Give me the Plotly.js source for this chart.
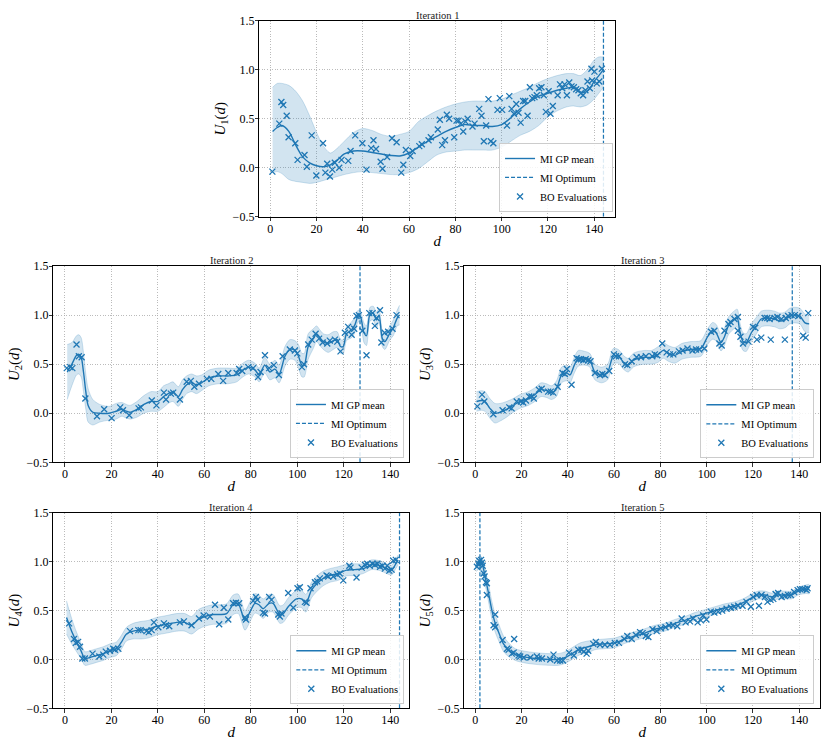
<!DOCTYPE html>
<html><head><meta charset="utf-8">
<script src="https://cdn.plot.ly/plotly-3.0.1.min.js"></script>
<style>html,body{margin:0;padding:0;background:#fff}#chart{width:830px;height:747px}</style>
</head><body><div id="chart"></div>
<script>
// ---------- Iteration 1 ----------
const grid1 = [1,3,5,8,11,14,17,20,23,26,29,32,36,40,44,48,52,56,60,64,68,72,76,80,84,88,92,96,100,104,108,112,116,120,124,128,131,134,137,140,142,144];
const mean1 = [0.37,0.41,0.43,0.37,0.23,0.11,0.05,0.02,0.01,0.03,0.08,0.14,0.17,0.17,0.155,0.14,0.125,0.12,0.15,0.21,0.27,0.32,0.37,0.41,0.44,0.43,0.43,0.42,0.44,0.51,0.60,0.67,0.73,0.76,0.79,0.81,0.82,0.77,0.78,0.88,0.94,1.0];
const upper1 = [0.82,0.86,0.86,0.84,0.78,0.68,0.53,0.36,0.22,0.15,0.20,0.27,0.36,0.40,0.38,0.34,0.32,0.34,0.37,0.47,0.53,0.58,0.62,0.65,0.67,0.68,0.68,0.68,0.70,0.74,0.78,0.82,0.87,0.91,0.94,0.96,0.96,0.94,1.0,1.1,1.13,1.13];
const lower1 = [-0.05,-0.04,-0.06,-0.12,-0.14,-0.15,-0.16,-0.15,-0.13,-0.11,-0.09,-0.07,-0.05,-0.04,-0.05,-0.06,-0.07,-0.07,-0.05,-0.01,0.06,0.13,0.16,0.17,0.18,0.18,0.18,0.18,0.21,0.27,0.33,0.37,0.43,0.52,0.58,0.62,0.63,0.62,0.64,0.70,0.76,0.82];
const evalX1 = [0.9,3.9,4.8,5.6,7.1,7.9,10.8,11.8,14.8,15.8,
  17.9,19.9,22.8,23.8,24.6,25.8,26.8,27.9,29.8,30.8,
  33.7,34.7,36.7,39.8,41.6,43.6,44.6,45.7,47.7,48.5,
  50.5,52.6,54.6,56.6,57.5,58.6,60.5,61.5,64.4,65.5,
  68.4,69.4,72.4,73.3,74.3,75.5,76.3,77.3,79.5,80.5,
  81.4,82.4,83.4,84.4,85.3,87.4,88.3,90.3,91.3,92.3,
  93.3,94.3,95.3,96.4,98.2,99.2,100.2,102.3,103.3,104.3,
  105.3,106.3,107.3,108.2,109.3,110.2,111.2,112.2,113.2,114.2,
  115.2,116.2,117.2,118.2,119.1,120.3,121.1,122.1,124.2,125.2,
  126.2,127.2,128.2,129.2,130.2,131.2,132.2,133.2,134.2,135.2,
  136.2,137.1,138.1,138.8,139.1,140.1,141.1,142.2,143.3];
const evalY1 = [-0.04,0.45,0.67,0.64,0.53,0.31,0.25,0.08,0.13,0.01,
  0.33,-0.08,0.25,-0.05,0.04,-0.09,-0.02,0.05,0.0,0.08,
  0.07,0.17,0.33,0.25,-0.02,0.20,0.28,0.19,0.06,-0.01,
  0.11,0.30,0.26,-0.05,0.03,0.18,0.12,0.17,0.22,0.24,
  0.28,0.31,0.39,0.49,0.23,0.28,0.54,0.50,0.31,0.48,
  0.48,0.45,0.37,0.47,0.50,0.42,0.45,0.60,0.53,0.27,
  0.43,0.70,0.27,0.25,0.59,0.71,0.59,0.43,0.73,0.60,
  0.55,0.65,0.56,0.46,0.68,0.68,0.53,0.82,0.71,0.72,
  0.74,0.81,0.82,0.74,0.57,0.78,0.55,0.63,0.74,0.85,
  0.81,0.85,0.74,0.87,0.83,0.82,0.80,0.79,0.76,0.74,
  0.79,0.88,0.81,1.01,0.89,0.98,0.86,0.88,1.01];
const opt1 = 144;

// ---------- Iteration 2 ----------
const grid2 = [1,3,5,6,7,8,9,10,12,15,19,22,24.5,26,28,31,34,37,40,42.5,44.5,46.5,48.8,50.6,52.4,54.5,56.7,58.8,62,66,70,74,76,79,81.8,83.6,86,88.2,90.4,92.2,94.7,96.8,99,100.5,102,103,104.7,106.9,108.3,109.7,111.2,113.3,115.5,117.2,118.6,119.8,121.2,123.4,124.8,126.2,127.2,128.7,129.8,131.3,132.7,134.1,135.2,136.6,137.7,139.9,141.3,143,144];
const mean2 = [0.42,0.50,0.59,0.60,0.57,0.42,0.22,0.08,0.01,0.0,0.0,0.02,0.04,0.025,0.01,0.04,0.09,0.12,0.12,0.17,0.2,0.22,0.17,0.24,0.29,0.31,0.29,0.31,0.36,0.38,0.38,0.39,0.43,0.47,0.44,0.39,0.49,0.42,0.45,0.40,0.58,0.65,0.64,0.58,0.49,0.49,0.68,0.76,0.81,0.77,0.73,0.71,0.74,0.75,0.68,0.68,0.81,0.85,0.90,0.99,0.98,0.82,0.79,1.01,1.02,0.95,1.0,0.76,0.73,0.82,0.87,0.97,1.0];
const spread2 = [0.28,0.22,0.2,0.2,0.2,0.2,0.18,0.17,0.13,0.09,0.07,0.08,0.07,0.07,0.07,0.08,0.09,0.1,0.1,0.11,0.1,0.1,0.1,0.1,0.09,0.09,0.09,0.08,0.08,0.08,0.08,0.07,0.07,0.07,0.07,0.07,0.08,0.08,0.09,0.09,0.1,0.1,0.1,0.12,0.12,0.12,0.13,0.1,0.08,0.08,0.08,0.09,0.09,0.08,0.07,0.07,0.07,0.08,0.08,0.06,0.06,0.1,0.1,0.07,0.07,0.08,0.07,0.08,0.08,0.07,0.08,0.08,0.1];
const evalX2 = [0.8,2.3,3.2,5.0,6.0,7.2,8.8,13.8,16.9,20.1,
  23.8,25.0,27.7,31.7,32.7,37.4,39.4,42.6,43.5,45.6,
  46.6,49.5,52.4,54.2,55.7,57.7,61.1,63.0,66.0,68.1,
  70.3,73.9,75.0,76.3,78.9,81.0,83.1,84.2,86.1,87.9,
  89.9,92.1,93.7,96.8,99.0,100.0,102.0,102.9,104.7,106.2,
  107.9,109.4,110.9,112.9,114.0,116.2,117.2,118.6,120.5,121.9,
  123.4,124.5,125.5,126.5,128.0,129.8,131.0,132.4,133.4,134.1,
  135.6,136.2,137.6,139.1,141.0,142.7];
const evalY2 = [0.46,0.47,0.46,0.70,0.58,0.57,0.15,-0.03,0.04,-0.05,
  0.06,0.03,-0.02,0.05,0.06,0.13,0.08,0.21,0.14,0.20,
  0.21,0.14,0.32,0.33,0.27,0.30,0.35,0.35,0.40,0.33,
  0.41,0.41,0.45,0.43,0.47,0.46,0.37,0.42,0.59,0.46,
  0.49,0.39,0.58,0.65,0.64,0.61,0.47,0.50,0.70,0.75,
  0.81,0.76,0.72,0.71,0.74,0.75,0.73,0.63,0.82,0.88,
  0.80,0.86,0.99,1.00,0.84,0.59,1.02,1.02,0.89,0.97,
  1.05,0.72,0.82,0.83,0.86,1.00];
const opt2 = 127;

// ---------- Iteration 3 ----------
const grid3 = [0.5,2.7,4.2,6.3,8.5,10.7,13.5,16.4,19.3,22.9,25.8,28.4,30.8,33,35.1,37.3,39.5,40.9,42.8,44.5,47.4,49.5,51.7,54.6,57.2,59.6,61.8,64.4,66.1,68.3,70.4,73.3,76.2,79.1,81.2,83.4,86.3,89.2,93.2,97.5,100.4,102.6,104.1,106.2,107.7,109.4,111.3,113.2,114.2,115.7,117.1,119.3,121.4,123.6,126.5,129.4,131.6,133.8,135.9,138.1,140.3,142.5,144.3];
const mean3 = [0.12,0.13,0.12,0.05,0.0,0.01,0.04,0.08,0.12,0.15,0.19,0.24,0.23,0.21,0.25,0.39,0.41,0.39,0.49,0.56,0.56,0.54,0.42,0.39,0.42,0.58,0.58,0.51,0.49,0.54,0.56,0.57,0.57,0.60,0.64,0.61,0.59,0.63,0.65,0.66,0.78,0.84,0.82,0.72,0.78,0.89,0.94,0.97,0.85,0.73,0.72,0.82,0.89,0.96,0.97,0.96,0.94,0.95,0.99,1.0,0.99,0.92,0.91];
const spread3 = [0.1,0.1,0.1,0.1,0.1,0.09,0.08,0.07,0.07,0.07,0.07,0.07,0.07,0.07,0.08,0.08,0.08,0.08,0.08,0.08,0.07,0.07,0.08,0.08,0.08,0.08,0.07,0.07,0.07,0.07,0.07,0.07,0.07,0.08,0.08,0.08,0.08,0.08,0.08,0.08,0.08,0.085,0.085,0.085,0.09,0.09,0.09,0.09,0.09,0.09,0.09,0.09,0.085,0.08,0.08,0.08,0.08,0.08,0.08,0.08,0.08,0.09,0.09];
const evalX3 = [0.9,2.9,3.9,7.8,11.8,14.7,15.7,17.9,19.7,20.7,
  21.9,23.3,24.3,25.3,27.5,28.7,31.5,32.6,33.7,35.6,
  37.7,38.7,39.6,41.6,43.8,44.8,45.7,46.7,47.7,48.8,
  49.8,51.7,53.9,54.9,56.0,57.9,59.9,60.8,62.1,64.7,
  65.7,67.6,69.7,71.6,73.7,76.5,77.6,78.6,80.8,82.7,
  84.1,85.6,88.0,89.6,91.7,93.9,95.4,96.8,99.0,101.9,
  103.3,105.5,106.5,107.7,109.4,110.3,112.0,113.5,113.5,114.6,
  115.7,118.1,120.0,121.0,121.7,123.6,125.1,126.2,127.2,127.7,
  129.4,130.6,132.3,133.8,134.2,135.2,136.7,138.1,139.6,141.7,
  142.8,143.9];
const evalY3 = [0.07,0.19,0.12,-0.01,0.03,0.06,0.05,0.12,0.12,0.11,
  0.13,0.17,0.17,0.15,0.24,0.25,0.22,0.22,0.21,0.27,
  0.41,0.40,0.45,0.29,0.56,0.55,0.55,0.54,0.55,0.54,
  0.53,0.41,0.39,0.40,0.39,0.43,0.60,0.58,0.58,0.50,
  0.49,0.53,0.57,0.57,0.58,0.58,0.60,0.59,0.71,0.62,
  0.60,0.60,0.63,0.64,0.66,0.64,0.65,0.65,0.66,0.83,
  0.84,0.71,0.69,0.84,0.91,0.93,0.96,0.98,0.84,0.78,
  0.71,0.73,0.88,0.87,0.75,0.77,0.97,0.97,0.96,0.75,
  0.97,0.98,0.96,0.75,0.97,0.99,1.0,1.0,0.99,0.79,
  0.77,1.02];
const opt3 = 137;

// ---------- Iteration 4 ----------
const grid4 = [0.7,2.9,5,6.9,8.6,10.8,13.6,16.5,19.4,22.2,24.4,26.5,29.4,33,35.9,39.4,43.8,48.1,51.6,54.5,57.4,60.2,63.8,66.7,69.6,72.4,74.6,77.5,79.9,81.8,83.5,85.3,87.9,89.6,92.5,94,96.1,99.7,101.8,103.7,106.1,108.6,111.2,114,117.6,121.2,124.8,128.4,132,135.6,138.4,140.6,142.4,143.4];
const mean4 = [0.43,0.29,0.18,0.09,0.01,0.02,0.04,0.06,0.09,0.11,0.18,0.26,0.29,0.30,0.31,0.34,0.36,0.38,0.38,0.35,0.41,0.44,0.46,0.46,0.47,0.56,0.57,0.40,0.50,0.575,0.56,0.52,0.575,0.575,0.46,0.47,0.54,0.62,0.62,0.575,0.71,0.78,0.83,0.86,0.88,0.915,0.92,0.93,0.97,0.96,0.93,0.915,0.98,1.02];
const spread4 = [0.17,0.13,0.1,0.08,0.07,0.07,0.07,0.07,0.07,0.07,0.07,0.07,0.08,0.09,0.09,0.09,0.09,0.09,0.09,0.09,0.1,0.1,0.1,0.1,0.1,0.1,0.1,0.1,0.1,0.1,0.1,0.1,0.09,0.09,0.09,0.09,0.09,0.09,0.09,0.09,0.08,0.08,0.075,0.07,0.07,0.06,0.06,0.05,0.05,0.05,0.05,0.05,0.05,0.05];
const evalX4 = [1.8,3.9,4.7,5.7,6.5,7.5,8.6,11.9,14.8,16.5,
  17.6,19.4,20.8,21.5,23.0,28.0,31.6,32.6,35.1,36.1,
  37.3,38.3,40.2,42.6,43.5,44.9,49.5,51.2,54.5,57.7,
  59.7,62.4,64.6,66.4,68.4,70.3,72.4,73.6,75.0,77.5,
  77.9,81.0,82.2,82.8,85.3,86.1,87.9,88.9,91.8,92.5,
  93.2,96.1,98.3,100.1,101.1,103.3,104.0,105.7,107.6,108.6,
  109.7,112.6,113.3,115.5,117.2,118.3,119.8,122.4,122.9,125.5,
  127.7,129.1,130.1,131.2,132.4,133.4,134.5,135.6,136.7,137.7,
  138.7,139.6,140.6,141.3,142.4];
const evalY4 = [0.37,0.21,0.17,0.18,0.13,0.01,0.01,0.06,0.03,0.05,
  0.08,0.09,0.11,0.10,0.11,0.29,0.30,0.30,0.29,0.28,
  0.30,0.38,0.33,0.37,0.35,0.34,0.38,0.39,0.35,0.42,
  0.45,0.44,0.56,0.36,0.53,0.41,0.575,0.58,0.575,0.43,
  0.41,0.60,0.64,0.61,0.48,0.47,0.64,0.61,0.46,0.44,
  0.47,0.68,0.53,0.73,0.74,0.59,0.58,0.73,0.79,0.80,
  0.83,0.86,0.85,0.85,0.87,0.88,0.81,0.96,0.94,0.84,
  0.94,0.97,0.98,0.96,0.98,0.97,0.98,0.95,0.96,0.93,
  0.96,0.91,0.92,1.01,1.02];
const opt4 = 144;

// ---------- Iteration 5 ----------
const grid5 = [0.5,2.2,3.2,4.3,5.8,7.2,8.6,10.4,12.2,14.4,17.3,20.9,25.9,31.7,36,38.9,41.8,45.4,48.8,51.7,56,60.3,64.7,69,73.3,77.6,81.9,86.3,90.6,94.9,99.2,103.6,107.9,112.2,116.5,119.4,122.3,125.2,128,130.9,133.8,136.7,139.6,143.2,144.3];
const mean5 = [0.96,1.0,0.96,0.84,0.67,0.50,0.37,0.26,0.16,0.10,0.05,0.027,0.01,0.0,0.0,0.02,0.06,0.11,0.13,0.15,0.16,0.17,0.21,0.24,0.27,0.31,0.33,0.37,0.40,0.44,0.47,0.50,0.53,0.55,0.59,0.63,0.66,0.66,0.64,0.66,0.66,0.66,0.70,0.72,0.72];
const spread5 = [0.06,0.06,0.07,0.08,0.09,0.09,0.09,0.085,0.08,0.07,0.06,0.06,0.06,0.06,0.06,0.06,0.06,0.06,0.06,0.05,0.05,0.05,0.045,0.045,0.045,0.04,0.04,0.04,0.04,0.04,0.04,0.04,0.04,0.04,0.04,0.04,0.04,0.04,0.04,0.04,0.04,0.04,0.04,0.045,0.05];
const evalX5 = [0.7,1.4,1.7,2.5,2.9,3.2,3.6,4.0,4.6,5.0,
  5.0,7.9,8.6,8.6,11.8,13.7,14.4,15.8,16.6,16.8,
  18.7,19.4,20.9,23.8,26.6,27.4,28.8,32.4,33.8,35.3,
  36.7,37.9,40.5,42.6,44.5,45.9,46.9,48.1,48.8,51.0,
  52.1,53.9,56.0,58.2,60.3,62.1,64.4,65.7,67.6,69.4,
  71.2,72.3,73.7,74.8,76.6,78.4,80.2,82.2,83.7,85.5,
  87.3,89.2,90.9,92.8,94.2,96.1,97.5,98.5,99.9,101.8,
  103.3,105.0,106.7,108.6,110.5,111.9,113.6,115.5,117.2,119.1,
  120.1,121.6,122.6,123.7,125.2,126.3,127.6,128.8,129.8,130.9,
  132.4,133.8,135.2,136.4,137.8,139.3,140.3,141.4,142.4,143.2,
  143.6];
const evalY5 = [0.95,0.98,1.01,1.02,0.99,0.96,0.88,0.85,0.79,0.78,
  0.66,0.35,0.33,0.46,0.20,0.11,0.10,0.06,0.07,0.21,
  0.04,0.03,0.02,0.02,0.03,0.01,0.01,0.0,0.05,-0.01,
  -0.01,-0.01,0.07,0.04,0.10,0.10,0.08,0.06,0.09,0.16,
  0.18,0.15,0.15,0.15,0.17,0.17,0.21,0.24,0.21,0.25,
  0.28,0.27,0.24,0.23,0.31,0.29,0.32,0.33,0.35,0.35,
  0.34,0.42,0.38,0.39,0.42,0.38,0.40,0.45,0.41,0.49,
  0.48,0.49,0.50,0.52,0.53,0.54,0.55,0.55,0.59,0.54,
  0.64,0.66,0.55,0.66,0.64,0.59,0.61,0.62,0.67,0.68,
  0.64,0.65,0.66,0.66,0.69,0.71,0.72,0.72,0.72,0.71,
  0.73];
const opt5 = 2;

// ---------- tick labels / text ----------
const xTicks = [0,20,40,60,80,100,120,140];
const yTicks = [-0.5,0,0.5,1,1.5];
const panelTitles = ['Iteration 1','Iteration 2','Iteration 3','Iteration 4','Iteration 5'];
const yLabels = ['<i>U</i><sub>1</sub>(<i>d</i>)','<i>U</i><sub>2</sub>(<i>d</i>)','<i>U</i><sub>3</sub>(<i>d</i>)','<i>U</i><sub>4</sub>(<i>d</i>)','<i>U</i><sub>5</sub>(<i>d</i>)'];
const seriesNames = ['MI GP mean','MI Optimum','BO Evaluations'];

// ---------- build ----------
const BLUE = '#1f77b4';
const FONT = 'Liberation Serif, DejaVu Serif, serif';
const addSpread = (m, s, sign) => m.map((v, i) => v + sign * s[i]);

const panels = [
  {grid: grid1, mean: mean1, up: upper1, lo: lower1, ex: evalX1, ey: evalY1, opt: opt1},
  {grid: grid2, mean: mean2, up: addSpread(mean2, spread2, 1), lo: addSpread(mean2, spread2, -1), ex: evalX2, ey: evalY2, opt: opt2},
  {grid: grid3, mean: mean3, up: addSpread(mean3, spread3, 1), lo: addSpread(mean3, spread3, -1), ex: evalX3, ey: evalY3, opt: opt3},
  {grid: grid4, mean: mean4, up: addSpread(mean4, spread4, 1), lo: addSpread(mean4, spread4, -1), ex: evalX4, ey: evalY4, opt: opt4},
  {grid: grid5, mean: mean5, up: addSpread(mean5, spread5, 1), lo: addSpread(mean5, spread5, -1), ex: evalX5, ey: evalY5, opt: opt5}
];

// layout geometry (paper fractions)
const geo = [
  {xd: [0.3124, 0.7410], yd: [0.7099, 0.9723], xr: [-4.75, 149], leg: [0.7386, 0.7162], ty: 0.9790},
  {xd: [0.0642, 0.4931], yd: [0.3811, 0.6439], xr: [-5, 148.2], leg: [0.4867, 0.3869], ty: 0.6510},
  {xd: [0.5594, 0.9880], yd: [0.3811, 0.6439], xr: [-4.75, 149], leg: [0.9811, 0.3865], ty: 0.6510},
  {xd: [0.0642, 0.4931], yd: [0.0518, 0.3133], xr: [-5, 148.2], leg: [0.4871, 0.0572], ty: 0.3210},
  {xd: [0.5594, 0.9880], yd: [0.0518, 0.3133], xr: [-4.75, 149], leg: [0.9811, 0.0572], ty: 0.3210}
];

const traces = [];
const layout = {
  width: 830, height: 747,
  margin: {l: 0, r: 0, t: 0, b: 0},
  paper_bgcolor: '#fff', plot_bgcolor: '#fff',
  font: {family: FONT, color: '#000'},
  showlegend: true,
  annotations: []
};

panels.forEach((p, i) => {
  const n = i + 1;
  const xa = n === 1 ? 'x' : 'x' + n;
  const ya = n === 1 ? 'y' : 'y' + n;
  const legKey = n === 1 ? 'legend' : 'legend' + n;
  const g = geo[i];

  traces.push({x: p.grid, y: p.lo, xaxis: xa, yaxis: ya, mode: 'lines',
    line: {color: 'rgba(31,119,180,0.25)', width: 0.8, shape: 'spline', smoothing: 0.8},
    showlegend: false, hoverinfo: 'skip', legend: legKey});
  traces.push({x: p.grid, y: p.up, xaxis: xa, yaxis: ya, mode: 'lines', fill: 'tonexty',
    fillcolor: 'rgba(31,119,180,0.2)',
    line: {color: 'rgba(31,119,180,0.25)', width: 0.8, shape: 'spline', smoothing: 0.8},
    showlegend: false, hoverinfo: 'skip', legend: legKey});
  traces.push({x: p.grid, y: p.mean, xaxis: xa, yaxis: ya, mode: 'lines', name: seriesNames[0],
    line: {color: BLUE, width: 1.4, shape: 'spline', smoothing: 0.8}, legend: legKey});
  traces.push({x: [p.opt, p.opt], y: [yTicks[0], yTicks[yTicks.length - 1]], xaxis: xa, yaxis: ya,
    mode: 'lines', name: seriesNames[1], line: {color: BLUE, width: 1.25, dash: '4px,2px'}, legend: legKey});
  traces.push({x: p.ex, y: p.ey, xaxis: xa, yaxis: ya, mode: 'markers', name: seriesNames[2],
    marker: {symbol: 'x-thin-open', size: 6, color: BLUE, line: {color: BLUE, width: 1.3}}, legend: legKey});

  const axCommon = {
    ticks: 'outside', ticklen: 3.5, tickwidth: 0.8, tickcolor: '#000',
    showline: true, linecolor: '#000', linewidth: 1, mirror: true,
    showgrid: true, gridcolor: '#aaaaaa', griddash: '1px,1.6px', gridwidth: 0.8,
    zeroline: false, tickfont: {family: FONT, size: 12, color: '#000'}
  };
  layout['xaxis' + (n === 1 ? '' : n)] = Object.assign({}, axCommon, {
    domain: g.xd, range: g.xr, tickvals: xTicks, anchor: ya, ticklabelstandoff: -3,
    title: {text: '<i>d</i>', font: {family: FONT, size: 15, color: '#000'}, standoff: 0}
  });
  layout['yaxis' + (n === 1 ? '' : n)] = Object.assign({}, axCommon, {
    domain: g.yd, range: [yTicks[0], yTicks[yTicks.length - 1]], tickvals: yTicks, tickformat: '.1f', anchor: xa,
    ticklabelstandoff: -2,
    title: {text: yLabels[i], font: {family: FONT, size: 15, color: '#000'}, standoff: 3}
  });
  layout[legKey] = {
    x: g.leg[0], y: g.leg[1], xanchor: 'right', yanchor: 'bottom', xref: 'paper', yref: 'paper',
    bgcolor: 'rgba(255,255,255,0.85)', bordercolor: '#cccccc', borderwidth: 1,
    font: {family: FONT, size: 10.5, color: '#000'}, tracegroupgap: 0, traceorder: 'normal'
  };
  layout.annotations.push({
    text: panelTitles[i], xref: 'paper', yref: 'paper',
    x: (g.xd[0] + g.xd[1]) / 2, y: g.ty, xanchor: 'center', yanchor: 'middle',
    showarrow: false, font: {family: FONT, size: 10.5, color: '#222'}
  });
});

Plotly.newPlot('chart', traces, layout, {displayModeBar: false, staticPlot: true});
</script></body></html>
